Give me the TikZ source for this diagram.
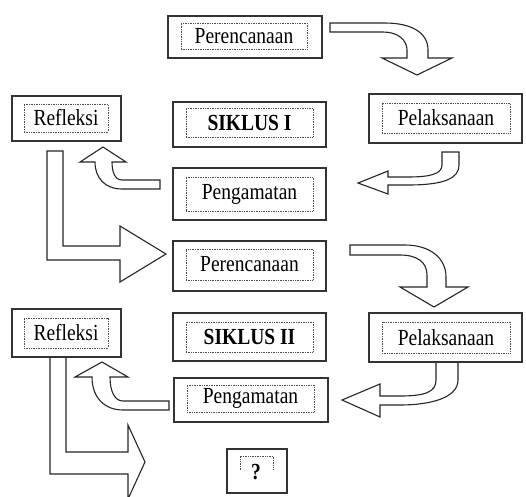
\documentclass[tikz,border=0pt]{standalone}
\usepackage{fontspec}
\usepackage{graphicx}
\setmainfont{Liberation Serif}
\newcommand\tallt[1]{\scalebox{1}[1.18]{#1}}
\begin{document}
\begin{tikzpicture}[x=1pt,y=-1pt,
  outerbox/.style={draw=black!80, line width=1.1pt, fill=white, inner sep=0pt},
  innerbox/.style={draw=black!70, densely dotted, line width=0.7pt, inner sep=0pt,
    font=\fontsize{19.5}{22}\selectfont},
  blockarrow/.style={draw=black!85, line width=1.1pt, fill=white, line join=miter}]
\useasboundingbox (0,0) rectangle (526,496);
% ---- block arrows ----
% Perencanaan -> Pelaksanaan (I)
\draw[blockarrow] (330,23) -- (385,23) .. controls (412,23) and (428,33) .. (428,50) -- (428,58)
  -- (452,58) -- (417,75) -- (382,58) -- (407,58) -- (407,50)
  .. controls (407,40) and (398,32) .. (383,32) -- (330,32) -- cycle;
% Pelaksanaan -> Pengamatan (I)
\draw[blockarrow] (442,152) -- (442,165) .. controls (442,174) and (430,177) .. (408,177) -- (388,177)
  -- (388,171) -- (358,183) -- (388,194) -- (388,185) -- (408,185)
  .. controls (445,185) and (459,178) .. (459,165) -- (459,152) -- cycle;
% Pengamatan -> Refleksi (I)
\draw[blockarrow] (160,180) -- (122,180) .. controls (115,180) and (112,172) .. (112,162)
  -- (126,162) -- (103,147) -- (80,162) -- (95,162)
  .. controls (95,178) and (105,189) .. (122,189) -- (160,189) -- cycle;
% Refleksi -> Perencanaan (II)
\draw[blockarrow] (47,151) -- (63,151) -- (63,246) -- (120,246) -- (120,226) -- (166,254)
  -- (120,282) -- (120,260) -- (47,260) -- cycle;
% Perencanaan -> Pelaksanaan (II)
\draw[blockarrow] (350,245) -- (405,245) .. controls (430,245) and (446,258) .. (446,277) -- (446,287)
  -- (468,287) -- (434,307) -- (400,287) -- (427,287) -- (427,275)
  .. controls (427,262) and (417,255) .. (400,255) -- (350,255) -- cycle;
% Pelaksanaan -> Pengamatan (II)
\draw[blockarrow] (436,362) -- (458,362) -- (458,380) .. controls (458,398) and (430,405) .. (400,405)
  -- (380,405) -- (380,417) -- (342,400) -- (380,384) -- (380,396) -- (400,396)
  .. controls (425,396) and (436,392) .. (436,380) -- cycle;
% Pengamatan -> Refleksi (II)
\draw[blockarrow] (169,401) -- (123,401) .. controls (115,401) and (110,392) .. (110,377)
  -- (128,377) -- (102,362) -- (75,377) -- (92,377)
  .. controls (92,398) and (105,410) .. (123,410) -- (169,410) -- cycle;
% Refleksi -> ?
\draw[blockarrow] (50,357) -- (66,357) -- (66,452) -- (128,452) -- (128,425) -- (145,462)
  -- (128,499) -- (128,474) -- (50,474) -- cycle;
% ---- boxes ----
\node[outerbox, minimum width=154pt, minimum height=42pt] (p1) at (245,37) {};
\node[innerbox, minimum width=126pt, minimum height=26pt] (p1t) at (244,36) {\tallt{Perencanaan}};
\node[outerbox, minimum width=109pt, minimum height=45pt] (r1) at (66.5,118.5) {};
\node[innerbox, minimum width=84pt, minimum height=28pt] (r1t) at (66,118) {\tallt{Refleksi}};
\node[outerbox, minimum width=153pt, minimum height=45pt] (s1) at (249.5,124.5) {};
\node[innerbox, minimum width=127pt, minimum height=29pt] (s1t) at (249.5,122.5) {\tallt{\textbf{SIKLUS I}}};
\node[outerbox, minimum width=153pt, minimum height=49pt] (l1) at (445.5,118.5) {};
\node[innerbox, minimum width=128pt, minimum height=30pt] (l1t) at (446,118) {\tallt{Pelaksanaan}};
\node[outerbox, minimum width=153pt, minimum height=52pt] (g1) at (249.5,194) {};
\node[innerbox, minimum width=127pt, minimum height=34pt] (g1t) at (249.5,194) {\tallt{Pengamatan}};
\node[outerbox, minimum width=153pt, minimum height=50pt] (p2) at (249.5,266) {};
\node[innerbox, minimum width=127pt, minimum height=31pt] (p2t) at (249.5,264.5) {\tallt{Perencanaan}};
\node[outerbox, minimum width=109pt, minimum height=48pt] (r2) at (66.5,333) {};
\node[innerbox, minimum width=84pt, minimum height=30pt] (r2t) at (66,333) {\tallt{Refleksi}};
\node[outerbox, minimum width=153pt, minimum height=48pt] (s2) at (249.5,337) {};
\node[innerbox, minimum width=127pt, minimum height=30pt] (s2t) at (249.5,337) {\tallt{\textbf{SIKLUS II}}};
\node[outerbox, minimum width=153pt, minimum height=49pt] (l2) at (445.5,337.5) {};
\node[innerbox, minimum width=128pt, minimum height=31pt] (l2t) at (446,337.5) {\tallt{Pelaksanaan}};
\node[outerbox, minimum width=154pt, minimum height=44pt] (g2) at (251,400) {};
\node[innerbox, minimum width=127pt, minimum height=27pt] (g2t) at (250.5,398.5) {\tallt{Pengamatan}};
\node[outerbox, minimum width=60pt, minimum height=44pt] (q) at (257,471) {};
\node[font=\fontsize{19.5}{22}\selectfont\bfseries, inner sep=0pt] (qt) at (256,472) {\tallt{?}};
\draw[draw=black!70, densely dotted, line width=0.7pt] (240,470) -- (240,456) -- (273,456) -- (273,470);
\end{tikzpicture}
\end{document}
